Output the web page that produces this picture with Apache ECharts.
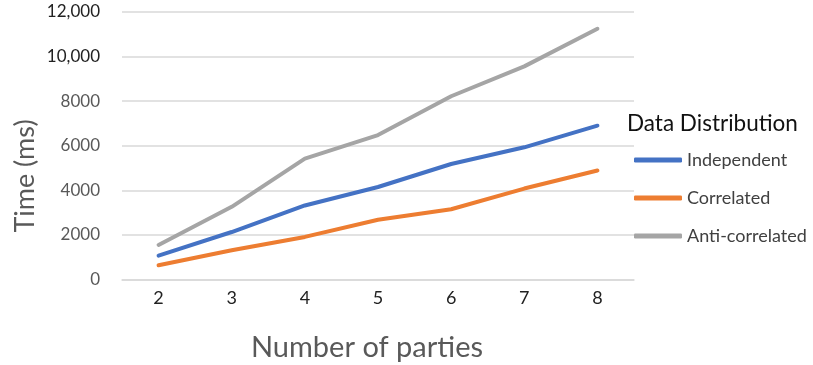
<!DOCTYPE html>
<html>
<head>
<meta charset="utf-8">
<script src="https://cdn.jsdelivr.net/npm/echarts@6/dist/echarts.min.js"></script>
<style>
  html, body { margin: 0; padding: 0; background: #fff; }
  #chart { width: 813px; height: 365px; }
</style>
</head>
<body>
<div id="chart"></div>
<script>
// Party counts on the x axis
const parties = ['2', '3', '4', '5', '6', '7', '8'];

// Running time (ms) per data distribution
const independent = [1070, 2130, 3320, 4150, 5180, 5930, 6900];
const correlated = [640, 1310, 1910, 2680, 3150, 4080, 4890];
const antiCorrelated = [1550, 3260, 5420, 6480, 8220, 9560, 11250];

const seriesNames = ['Independent', 'Correlated', 'Anti-correlated'];
const seriesColors = ['#4472C4', '#ED7D31', '#A5A5A5'];

const FONT = 'Lato, "Open Sans", sans-serif';

const chart = echarts.init(document.getElementById('chart'), null, { renderer: 'canvas' });

function lineSeries(name, data, color) {
  return {
    name: name,
    type: 'line',
    data: data,
    symbol: 'none',
    lineStyle: { width: 4, color: color, cap: 'round', join: 'round' },
    itemStyle: { color: color },
    emphasis: { disabled: true }
  };
}

chart.setOption({
  animation: false,
  backgroundColor: '#ffffff',
  grid: {
    left: 122, right: 179, top: 12, bottom: 85.5,
    containLabel: false,
    outerBoundsMode: 'none'
  },
  xAxis: {
    type: 'category',
    data: parties,
    boundaryGap: true,
    axisLine: { show: true, lineStyle: { color: '#d9d9d9', width: 1.5 } },
    axisTick: { show: false },
    axisLabel: { color: '#222222', fontFamily: FONT, fontSize: 18, margin: 10 },
    name: 'Number of parties',
    nameLocation: 'middle',
    nameGap: 54,
    nameTextStyle: { color: '#595959', fontFamily: FONT, fontSize: 29, padding: [0, 22, 0, 0] }
  },
  yAxis: {
    type: 'value',
    min: 0,
    max: 12000,
    interval: 2000,
    axisLine: { show: false },
    axisTick: { show: false },
    splitLine: { lineStyle: { color: '#d9d9d9', width: 1.5 } },
    axisLabel: {
      margin: 22,
      formatter: function (v) {
        if (v >= 10000) {
          return '{d|' + (v / 1000) + ',000}';
        }
        return '{g|' + v + '}';
      },
      rich: {
        d: { color: '#222222', fontFamily: FONT, fontSize: 17 },
        g: { color: '#595959', fontFamily: FONT, fontSize: 17 }
      }
    }
  },
  legend: {
    orient: 'vertical',
    left: 634,
    top: 149,
    padding: 0,
    itemWidth: 48,
    itemHeight: 5,
    itemGap: 16,
    itemTextGap: 3,
    icon: 'roundRect',
    data: seriesNames,
    textStyle: { color: '#404040', fontFamily: FONT, fontSize: 18, lineHeight: 22 }
  },
  graphic: [
    {
      type: 'text',
      left: 627,
      top: 112,
      style: { text: 'Data Distribution', fill: '#111111', font: '22.5px ' + FONT }
    },
    {
      type: 'text',
      x: 25,
      y: 176,
      rotation: Math.PI / 2,
      style: {
        text: 'Time (ms)',
        fill: '#595959',
        font: '27px ' + FONT,
        align: 'center',
        verticalAlign: 'middle'
      }
    }
  ],
  series: [
    lineSeries(seriesNames[0], independent, seriesColors[0]),
    lineSeries(seriesNames[1], correlated, seriesColors[1]),
    lineSeries(seriesNames[2], antiCorrelated, seriesColors[2])
  ]
});
</script>
</body>
</html>
